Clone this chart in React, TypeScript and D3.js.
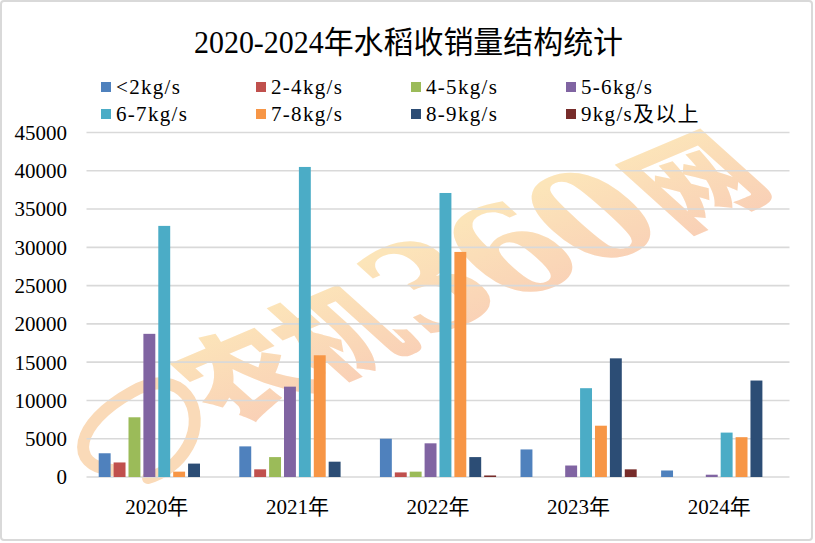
import React, { useEffect, useRef } from 'react'
import * as d3 from 'd3'

// chart data
const years = ['2020年', '2021年', '2022年', '2023年', '2024年']
const seriesNames = ['<2kg/s', '2-4kg/s', '4-5kg/s', '5-6kg/s', '6-7kg/s', '7-8kg/s', '8-9kg/s', '9kg/s及以上']
const under2 = [3100, 4000, 5000, 3600, 850]
const from2to4 = [1900, 1000, 600, 0, 0]
const from4to5 = [7800, 2600, 700, 0, 0]
const from5to6 = [18700, 11800, 4400, 1500, 300]
const from6to7 = [32800, 40500, 37100, 11600, 5800]
const from7to8 = [700, 15900, 29400, 6700, 5200]
const from8to9 = [1750, 2000, 2600, 15500, 12600]
const over9 = [0, 0, 200, 1000, 0]
const yTicks = [0, 5000, 10000, 15000, 20000, 25000, 30000, 35000, 40000, 45000]
const colors = ['#4F81BD', '#C0504D', '#9BBB59', '#8064A2', '#4BACC6', '#F79646', '#2C4D75', '#772C2A']

const title = '2020-2024年水稻收销量结构统计'
const wmCjk1 = '农机'
const wmDigits = '360'
const wmCjk2 = '网'

const W = 815
const H = 543
const fontFamily = "'Liberation Serif', 'Times New Roman', 'DejaVu Serif', 'Noto Sans CJK SC', serif"

export default function App() {
  const ref = useRef<SVGSVGElement | null>(null)

  useEffect(() => {
    const values = [under2, from2to4, from4to5, from5to6, from6to7, from7to8, from8to9, over9]
    const svg = d3.select(ref.current)
    svg.selectAll('*').remove()

    const left = 86.5
    const right = 789.5
    const top = 132.5
    const bottom = 477

    const x0 = d3.scaleBand().domain(years).range([left, right]).padding(0)
    const x1 = d3
      .scaleBand()
      .domain(seriesNames)
      .range([0, x0.bandwidth()])
      .paddingInner(0.2)
      .paddingOuter(0.82)
    const y = d3.scaleLinear().domain([0, 45000]).range([bottom, top])

    const defs = svg.append('defs')
    const grad = defs
      .append('linearGradient')
      .attr('id', 'wm')
      .attr('x1', 0)
      .attr('y1', 0)
      .attr('x2', 0)
      .attr('y2', 1)
    grad.append('stop').attr('offset', '20%').attr('stop-color', '#FCE5B9')
    grad.append('stop').attr('offset', '90%').attr('stop-color', '#F9CFB6')

    svg.append('rect').attr('width', W).attr('height', H).attr('fill', '#fff')
    svg
      .append('rect')
      .attr('x', 1)
      .attr('y', 1)
      .attr('width', W - 4)
      .attr('height', H - 4)
      .attr('rx', 3)
      .attr('fill', 'none')
      .attr('stroke', '#D9D9D9')
      .attr('stroke-width', 2)

    // title
    svg
      .append('text')
      .attr('x', W / 2 + 1)
      .attr('y', 53)
      .attr('text-anchor', 'middle')
      .style('font-family', fontFamily)
      .style('font-size', '31px')
      .attr('textLength', 429)
      .attr('lengthAdjust', 'spacingAndGlyphs')
      .attr('fill', '#000')
      .text(title)

    // legend, two rows of four
    const legend = svg
      .selectAll('g.legend')
      .data(seriesNames)
      .enter()
      .append('g')
      .attr('class', 'legend')
      .attr('transform', (d, i) => 'translate(' + (101 + (i % 4) * 155) + ',' + (87 + Math.floor(i / 4) * 27) + ')')
    legend
      .append('rect')
      .attr('x', 0)
      .attr('y', -5)
      .attr('width', 10)
      .attr('height', 10)
      .attr('fill', (d, i) => colors[i])
    legend
      .append('text')
      .attr('x', 15)
      .attr('y', 0)
      .attr('dy', '0.35em')
      .style('font-family', fontFamily)
      .style('font-size', '21px')
      .style('letter-spacing', '1.3px')
      .attr('fill', '#000')
      .text((d) => d)

    // watermark behind the plot
    const wm = svg
      .append('g')
      .attr('transform', 'translate(226,424) rotate(-23) skewX(25)')
    const wmText = wm
      .append('text')
      .attr('x', 0)
      .attr('y', 0)
      .attr('fill', 'url(#wm)')
      .style('font-weight', 900)
    wmText
      .append('tspan')
      .style('font-family', "'Noto Sans CJK SC', sans-serif")
      .style('font-size', '106px')
      .text(wmCjk1)
    wmText
      .append('tspan')
      .attr('dx', 4)
      .style('font-family', "'DejaVu Serif', serif")
      .style('font-size', '136px')
      .style('letter-spacing', '-6px')
      .text(wmDigits)
    wmText
      .append('tspan')
      .attr('dx', 10)
      .style('font-family', "'Noto Sans CJK SC', sans-serif")
      .style('font-size', '108px')
      .text(wmCjk2)
    svg
      .append('path')
      .attr('d', 'M 112 470 C 68 466, 74 424, 132 392 C 182 364, 208 410, 188 446 C 178 464, 162 474, 148 478')
      .attr('fill', 'none')
      .attr('stroke', '#FADAB8')
      .attr('stroke-width', 12)
      .attr('stroke-linecap', 'round')

    // gridlines and y labels
    svg
      .append('g')
      .selectAll('line')
      .data(yTicks)
      .enter()
      .append('line')
      .attr('x1', left)
      .attr('x2', right)
      .attr('y1', (d) => y(d))
      .attr('y2', (d) => y(d))
      .attr('stroke', '#D9D9D9')
      .attr('stroke-width', 1.6)
    svg
      .append('g')
      .selectAll('text')
      .data(yTicks)
      .enter()
      .append('text')
      .attr('x', 67)
      .attr('y', (d) => y(d))
      .attr('dy', '0.35em')
      .attr('text-anchor', 'end')
      .style('font-family', fontFamily)
      .style('font-size', '21px')
      .attr('fill', '#000')
      .text((d) => d)

    // bars
    const groups = svg
      .append('g')
      .selectAll('g')
      .data(seriesNames)
      .enter()
      .append('g')
      .attr('fill', (d, i) => colors[i])
    groups
      .selectAll('rect')
      .data((d, i) => values[i].map((v, j) => ({ name: d, year: years[j], v })))
      .enter()
      .append('rect')
      .attr('x', (d) => (x0(d.year) as number) + (x1(d.name) as number))
      .attr('width', x1.bandwidth())
      .attr('y', (d) => y(d.v))
      .attr('height', (d) => bottom - y(d.v))

    // category labels
    svg
      .append('g')
      .selectAll('text')
      .data(years)
      .enter()
      .append('text')
      .attr('x', (d) => (x0(d) as number) + x0.bandwidth() / 2)
      .attr('y', 507)
      .attr('dy', '0.35em')
      .attr('text-anchor', 'middle')
      .style('font-family', fontFamily)
      .style('font-size', '21px')
      .attr('fill', '#000')
      .text((d) => d)
  }, [])

  return <svg ref={ref} width={W} height={H} style={{ position: 'absolute', left: 0, top: 0 }} />
}
